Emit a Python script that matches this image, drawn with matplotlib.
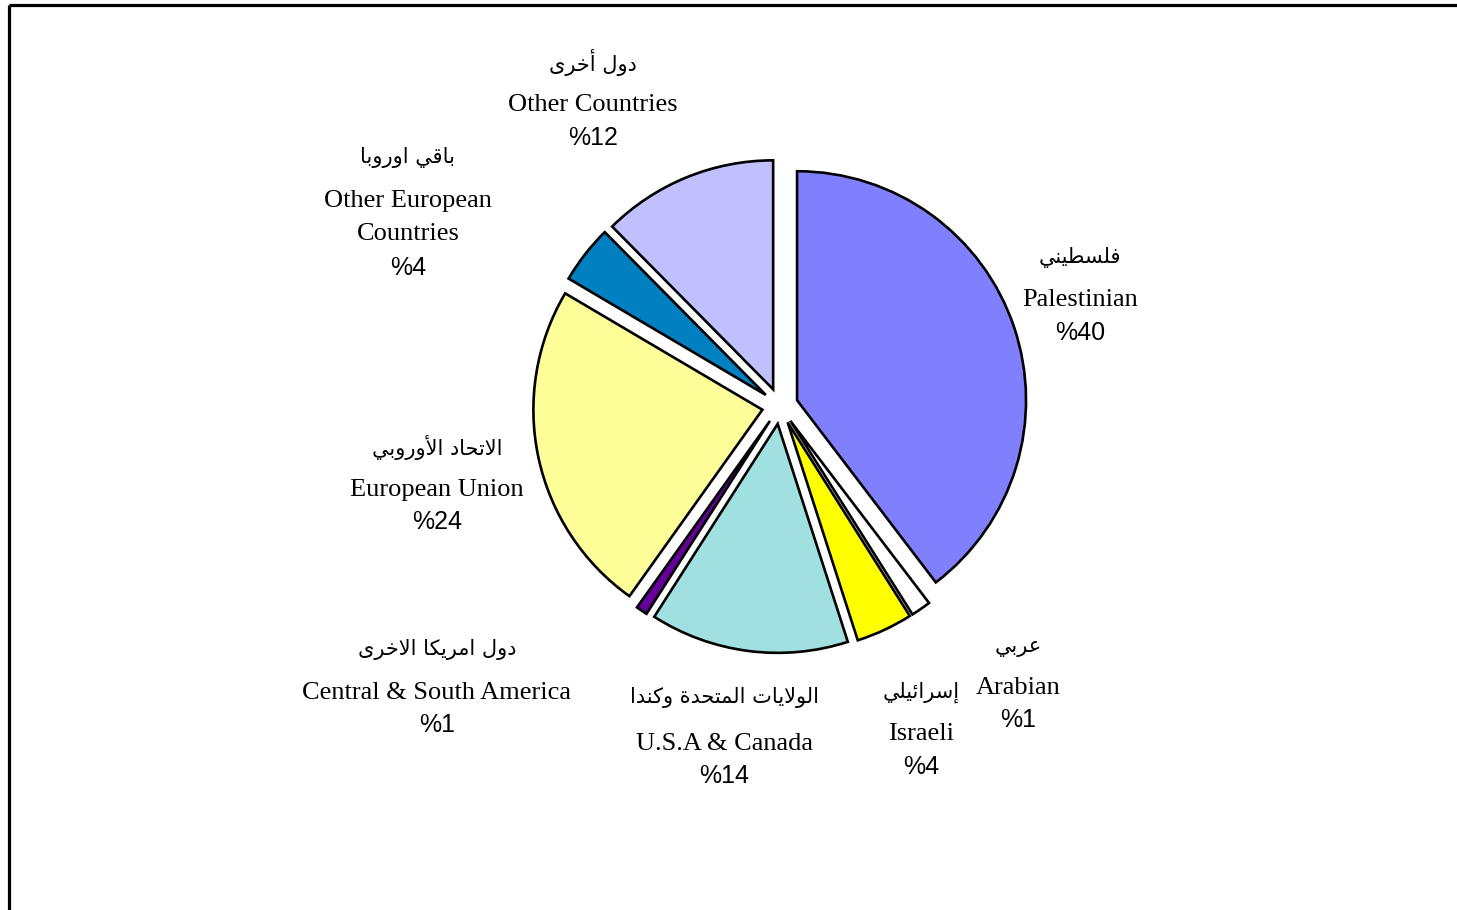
import matplotlib
matplotlib.use("Agg")
import matplotlib.pyplot as plt

# slice data, clockwise from 12 o'clock
names_ar = ["فلسطيني", "عربي", "إسرائيلي", "الولايات المتحدة وكندا",
            "دول امريكا الاخرى", "الاتحاد الأوروبي", "باقي اوروبا", "دول أخرى"]
names_en = ["Palestinian", "Arabian", "Israeli", "U.S.A & Canada",
            "Central & South America", "European Union", "Other European\nCountries", "Other Countries"]
shares = [39.6, 1.4, 4.0, 14.0, 0.8, 23.6, 4.1, 12.4]
colors = ["#8080FF", "#FFFFFF", "#FFFF00", "#A0E0E0", "#660099", "#FFFF99", "#0080C0", "#C0C0FF"]

# label anchor (pixels from top-left): x, y of arabic line, y of english line(s), y of percent line
label_pos = [(1080, 258, 300, 333), (1018, 647, 688, 720), (921, 692, 734, 767), (724, 698, 744, 776),
             (437, 650, 693, 725), (437, 447, 490, 522), (408, 158, 217.5, 268), (593, 62, 105, 138)]

W, H = 1457, 910

# --- tiny arabic shaper (matplotlib has no bidi/joining) ---
FORMS = {
    'ا': ('\uFE8D', '\uFE8E', None, None), 'أ': ('\uFE83', '\uFE84', None, None),
    'إ': ('\uFE87', '\uFE88', None, None), 'د': ('\uFEA9', '\uFEAA', None, None),
    'ر': ('\uFEAD', '\uFEAE', None, None), 'و': ('\uFEED', '\uFEEE', None, None),
    'ة': ('\uFE93', '\uFE94', None, None), 'ى': ('\uFEEF', '\uFEF0', None, None),
    'ب': ('\uFE8F', '\uFE90', '\uFE91', '\uFE92'), 'ت': ('\uFE95', '\uFE96', '\uFE97', '\uFE98'),
    'ح': ('\uFEA1', '\uFEA2', '\uFEA3', '\uFEA4'), 'خ': ('\uFEA5', '\uFEA6', '\uFEA7', '\uFEA8'),
    'س': ('\uFEB1', '\uFEB2', '\uFEB3', '\uFEB4'), 'ط': ('\uFEC1', '\uFEC2', '\uFEC3', '\uFEC4'),
    'ع': ('\uFEC9', '\uFECA', '\uFECB', '\uFECC'), 'ف': ('\uFED1', '\uFED2', '\uFED3', '\uFED4'),
    'ق': ('\uFED5', '\uFED6', '\uFED7', '\uFED8'), 'ك': ('\uFED9', '\uFEDA', '\uFEDB', '\uFEDC'),
    'ل': ('\uFEDD', '\uFEDE', '\uFEDF', '\uFEE0'), 'م': ('\uFEE1', '\uFEE2', '\uFEE3', '\uFEE4'),
    'ن': ('\uFEE5', '\uFEE6', '\uFEE7', '\uFEE8'), 'ي': ('\uFEF1', '\uFEF2', '\uFEF3', '\uFEF4'),
    'ئ': ('\uFE89', '\uFE8A', '\uFE8B', '\uFE8C'),
}
LAMALEF = {'ا': ('\uFEFB', '\uFEFC'), 'أ': ('\uFEF7', '\uFEF8'), 'إ': ('\uFEF9', '\uFEFA')}


def dual(c):
    return c in FORMS and FORMS[c][2] is not None


def shape(text):
    out = []
    i = 0
    while i < len(text):
        c = text[i]
        if c not in FORMS:
            out.append(c)
            i += 1
            continue
        jp = i > 0 and dual(text[i - 1])
        nxt = text[i + 1] if i + 1 < len(text) else ''
        if c == 'ل' and nxt in LAMALEF:
            out.append(LAMALEF[nxt][1] if jp else LAMALEF[nxt][0])
            i += 2
            continue
        jn = dual(c) and nxt in FORMS
        iso, fin, ini, med = FORMS[c]
        out.append(med if (jp and jn) else fin if jp else ini if jn else iso)
        i += 1
    return ''.join(reversed(out))


fig = plt.figure(figsize=(W / 100, H / 100), dpi=100)
bg = fig.add_axes([0, 0, 1, 1])
bg.set_xlim(0, W)
bg.set_ylim(H, 0)
bg.axis('off')

# frame lines (top and left only, like the cropped original)
bg.plot([8.5, W], [4.5, 4.5], color='black', lw=2.3, clip_on=False, solid_capstyle='butt')
bg.plot([8.5, 8.5], [4.5, H], color='black', lw=2.3, clip_on=False, solid_capstyle='butt')

# pie in its own square axes, 229 px radius
cx, cy, R, half = 780, 406, 229, 330
ax = fig.add_axes([(cx - half) / W, (H - cy - half) / H, 2 * half / W, 2 * half / H])
ax.pie(shares, colors=colors, startangle=90, counterclock=False,
       explode=[18 / R] * len(shares),
       wedgeprops=dict(edgecolor='black', linewidth=1.9))
ax.set_xlim(-half / R, half / R)
ax.set_ylim(-half / R, half / R)
ax.set_aspect('auto')
ax.axis('off')

for ar, en, v, (x, ya, ye, yp) in zip(names_ar, names_en, shares, label_pos):
    bg.text(x, ya, shape(ar), family='DejaVu Sans', fontsize=15, ha='center', va='center')
    lines = en.split('\n')
    for k, line in enumerate(lines):
        bg.text(x, ye + (k - (len(lines) - 1) / 2) * 33, line, family='Liberation Serif',
                fontsize=19, ha='center', va='center')
    bg.text(x, yp, '%' + '%.0f' % v, family='Liberation Sans', fontsize=18, ha='center', va='center')

fig.savefig('out.png', dpi=100)
